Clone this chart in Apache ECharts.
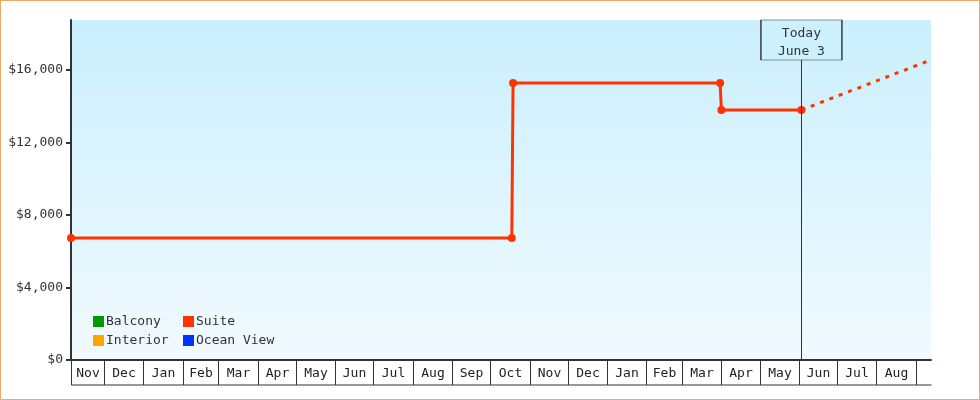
<!DOCTYPE html>
<html>
<head>
<meta charset="utf-8">
<script src="https://cdn.jsdelivr.net/npm/echarts@6/dist/echarts.min.js"></script>
<style>
html,body{margin:0;padding:0;background:#fff;}
#chart{width:980px;height:400px;box-sizing:border-box;border:1px solid #eeab5f;border-right-color:#dcb07e;border-bottom-color:#dcb07e;}
</style>
</head>
<body>
<div id="chart"></div>
<script>
// ---- data ----
var xMin = '2017-11-05';
var xMax = '2019-09-13';
var todayDate = '2019-06-03';
var todayLabel = ['Today', 'June 3'];
var yTicks = [0, 4000, 8000, 12000, 16000];
var yMax = 18760;
var monthStarts = ['2017-11-05','2017-12-01','2018-01-01','2018-02-01','2018-03-01','2018-04-01','2018-05-01','2018-06-01','2018-07-01','2018-08-01','2018-09-01','2018-10-01','2018-11-01','2018-12-01','2019-01-01','2019-02-01','2019-03-01','2019-04-01','2019-05-01','2019-06-01','2019-07-01','2019-08-01','2019-09-01'];
var monthLabels = ['Nov','Dec','Jan','Feb','Mar','Apr','May','Jun','Jul','Aug','Sep','Oct','Nov','Dec','Jan','Feb','Mar','Apr','May','Jun','Jul','Aug',''];
var suiteDates = ['2017-11-05','2018-10-18','2018-10-19','2019-03-31','2019-04-01','2019-06-03'];
var suiteValues = [6730, 6730, 15280, 15280, 13800, 13800];
var projDates = ['2019-06-03','2019-09-13'];
var projValues = [13800, 16560];
var legendCol1 = ['Balcony','Interior'];
var legendCol2 = ['Suite','Ocean View'];
var colors = {Balcony:'#009900', Interior:'#ffa500', Suite:'#ff3300', 'Ocean View':'#0033ff'};

// ---- build ----
var FONT = '"DejaVu Sans Mono", monospace';
var monthData = monthStarts.map(function(s, i){
  var e = i + 1 < monthStarts.length ? monthStarts[i+1] : xMax;
  return [s, e, monthLabels[i]];
});
function zip(a, b){ return a.map(function(d, i){ return [d, b[i]]; }); }

var chart = echarts.init(document.getElementById('chart'), null, {renderer:'canvas'});
chart.setOption({
  animation: false,
  textStyle: {fontFamily: FONT, fontSize: 13, color: '#333'},
  grid: {
    left: 70, right: 48, top: 19, bottom: 39, show: true, borderWidth: 0,
    backgroundColor: {type:'linear', x:0, y:0, x2:0, y2:1, colorStops:[{offset:0,color:'#caeffd'},{offset:1,color:'#f1faff'}]}
  },
  legend: [
    {data: legendCol1, orient:'vertical', left: 92, top: 314, itemWidth: 11, itemHeight: 11, itemGap: 6, icon:'rect',
     textStyle:{fontFamily:FONT, fontSize:13, color:'#333', padding:[0,0,0,-3]}, padding:0},
    {data: legendCol2, orient:'vertical', left: 182, top: 314, itemWidth: 11, itemHeight: 11, itemGap: 6, icon:'rect',
     textStyle:{fontFamily:FONT, fontSize:13, color:'#333', padding:[0,0,0,-3]}, padding:0}
  ],
  xAxis: {
    type: 'time', min: xMin, max: xMax,
    axisLine: {show: true, lineStyle:{color:'#333', width:2}},
    axisTick: {show:false}, axisLabel:{show:false}, splitLine:{show:false}
  },
  yAxis: {
    type: 'value', min: 0, max: yMax,
    axisLine: {show: true, lineStyle:{color:'#333', width:2}},
    axisTick: {show: true, length: 5, lineStyle:{color:'#333', width:2}, customValues: yTicks},
    axisLabel: {customValues: yTicks, margin: 8, fontFamily: FONT, fontSize: 13, color:'#333', padding:[5,0,0,0],
      formatter: function(v){ return '$' + v.toLocaleString('en-US'); }},
    splitLine: {show:false}
  },
  series: [
    {name:'Balcony', type:'line', data:[], itemStyle:{color:colors.Balcony}},
    {name:'Interior', type:'line', data:[], itemStyle:{color:colors.Interior}},
    {name:'Ocean View', type:'line', data:[], itemStyle:{color:colors['Ocean View']}},
    {name:'Suite', type:'line', data: zip(suiteDates, suiteValues),
      symbol:'circle', symbolSize:8, showAllSymbol:true,
      lineStyle:{color:colors.Suite, width:3}, itemStyle:{color:colors.Suite},
      markLine: {silent:true, symbol:'none', label:{show:false},
        lineStyle:{color:'#333', width:1, type:'solid'},
        data:[[{coord:[todayDate, 0]}, {coord:[todayDate, yMax]}]]},
      markPoint: {silent:true, symbol:'rect', symbolSize:[81,40], symbolOffset:[0,20],
        itemStyle:{color:'#cdf0fd', borderColor:'#333', borderWidth:1},
        label:{show:true, position:'inside', offset:[0,3], formatter: todayLabel.join('\n'), fontFamily:FONT, fontSize:13, color:'#333', lineHeight:18},
        data:[{coord:[todayDate, yMax]}]},
      z: 3
    },
    {name:'Suite', type:'line', data: zip(projDates, projValues), symbol:'none',
      lineStyle:{color:colors.Suite, width:3, type:[4,6]}, z:2},
    {type:'custom', coordinateSystem:'cartesian2d', clip:false, silent:true,
      encode:{x:[0,1]},
      data: monthData,
      renderItem: function(params, api){
        var s = api.coord([api.value(0), 0]);
        var e = api.coord([api.value(1), 0]);
        var y0 = s[1], y1 = s[1] + 25;
        var x0 = Math.round(s[0]) + 0.5, x1 = Math.round(e[0]) + 0.5;
        var label = monthLabels[params.dataIndex];
        var children = [
          {type:'line', shape:{x1:x0, y1:y0, x2:x0, y2:y1}, style:{stroke:'#333', lineWidth:1}},
          {type:'line', shape:{x1:x0, y1:y1, x2:x1, y2:y1}, style:{stroke:'#333', lineWidth:1}}
        ];
        if (label) {
          children.push({type:'text', x:(x0+x1)/2, y:(y0+y1)/2 + 1,
            style:{text:label, fill:'#222', font:'13px ' + FONT, align:'center', verticalAlign:'middle'}});
        }
        return {type:'group', children: children};
      }
    }
  ]
});
</script>
</body>
</html>
